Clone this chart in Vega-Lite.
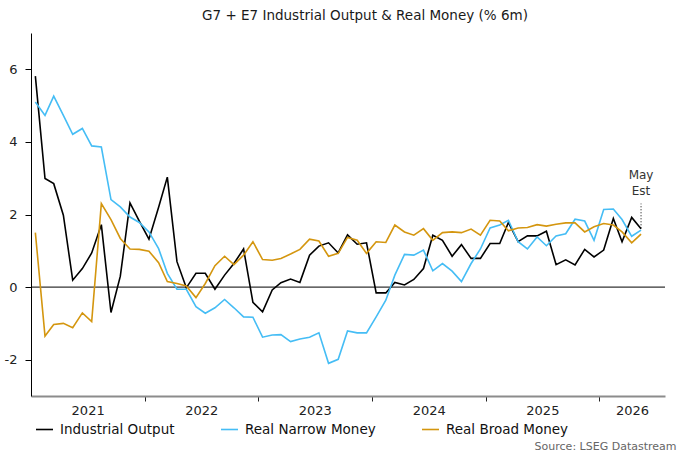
{
  "$schema": "https://vega.github.io/schema/vega-lite/v6.json",
  "width": 634,
  "height": 363,
  "autosize": {"type": "none"},
  "padding": {"left": 31, "top": 33, "right": 15, "bottom": 58},
  "background": "white",
  "title": {
    "text": "G7 + E7 Industrial Output & Real Money (% 6m)",
    "font": "DejaVu Sans",
    "fontSize": 13.5,
    "fontWeight": "normal",
    "color": "#1a1a1a",
    "anchor": "middle",
    "offset": 11,
    "dx": 17
  },
  "config": {
    "view": {"stroke": null},
    "font": "DejaVu Sans"
  },
  "datasets": {
    "monthly": [
      {"m": "2021-01-15", "Industrial Output": 5.81, "Real Narrow Money": 5.10, "Real Broad Money": 1.50},
      {"m": "2021-02-15", "Industrial Output": 2.99, "Real Narrow Money": 4.73, "Real Broad Money": -1.35},
      {"m": "2021-03-15", "Industrial Output": 2.85, "Real Narrow Money": 5.26, "Real Broad Money": -1.03},
      {"m": "2021-04-15", "Industrial Output": 1.98, "Real Narrow Money": 4.73, "Real Broad Money": -1.00},
      {"m": "2021-05-15", "Industrial Output": 0.19, "Real Narrow Money": 4.21, "Real Broad Money": -1.12},
      {"m": "2021-06-15", "Industrial Output": 0.51, "Real Narrow Money": 4.37, "Real Broad Money": -0.71},
      {"m": "2021-07-15", "Industrial Output": 0.94, "Real Narrow Money": 3.89, "Real Broad Money": -0.95},
      {"m": "2021-08-15", "Industrial Output": 1.72, "Real Narrow Money": 3.86, "Real Broad Money": 2.30},
      {"m": "2021-09-15", "Industrial Output": -0.70, "Real Narrow Money": 2.41, "Real Broad Money": 1.86},
      {"m": "2021-10-15", "Industrial Output": 0.30, "Real Narrow Money": 2.21, "Real Broad Money": 1.34},
      {"m": "2021-11-15", "Industrial Output": 2.32, "Real Narrow Money": 1.93, "Real Broad Money": 1.05},
      {"m": "2021-12-15", "Industrial Output": 1.82, "Real Narrow Money": 1.78, "Real Broad Money": 1.04},
      {"m": "2022-01-15", "Industrial Output": 1.32, "Real Narrow Money": 1.52, "Real Broad Money": 0.99},
      {"m": "2022-02-15", "Industrial Output": 2.20, "Real Narrow Money": 1.06, "Real Broad Money": 0.67},
      {"m": "2022-03-15", "Industrial Output": 3.03, "Real Narrow Money": 0.38, "Real Broad Money": 0.15},
      {"m": "2022-04-15", "Industrial Output": 0.70, "Real Narrow Money": -0.06, "Real Broad Money": 0.10},
      {"m": "2022-05-15", "Industrial Output": -0.02, "Real Narrow Money": -0.06, "Real Broad Money": 0.03},
      {"m": "2022-06-15", "Industrial Output": 0.38, "Real Narrow Money": -0.54, "Real Broad Money": -0.29},
      {"m": "2022-07-15", "Industrial Output": 0.38, "Real Narrow Money": -0.72, "Real Broad Money": 0.10},
      {"m": "2022-08-15", "Industrial Output": -0.06, "Real Narrow Money": -0.57, "Real Broad Money": 0.59},
      {"m": "2022-09-15", "Industrial Output": 0.33, "Real Narrow Money": -0.34, "Real Broad Money": 0.85},
      {"m": "2022-10-15", "Industrial Output": 0.65, "Real Narrow Money": -0.57, "Real Broad Money": 0.62},
      {"m": "2022-11-15", "Industrial Output": 1.05, "Real Narrow Money": -0.82, "Real Broad Money": 0.88},
      {"m": "2022-12-15", "Industrial Output": -0.42, "Real Narrow Money": -0.83, "Real Broad Money": 1.25},
      {"m": "2023-01-15", "Industrial Output": -0.68, "Real Narrow Money": -1.38, "Real Broad Money": 0.76},
      {"m": "2023-02-15", "Industrial Output": -0.08, "Real Narrow Money": -1.32, "Real Broad Money": 0.74},
      {"m": "2023-03-15", "Industrial Output": 0.12, "Real Narrow Money": -1.31, "Real Broad Money": 0.79},
      {"m": "2023-04-15", "Industrial Output": 0.22, "Real Narrow Money": -1.50, "Real Broad Money": 0.91},
      {"m": "2023-05-15", "Industrial Output": 0.13, "Real Narrow Money": -1.43, "Real Broad Money": 1.04},
      {"m": "2023-06-15", "Industrial Output": 0.88, "Real Narrow Money": -1.38, "Real Broad Money": 1.32},
      {"m": "2023-07-15", "Industrial Output": 1.13, "Real Narrow Money": -1.26, "Real Broad Money": 1.27},
      {"m": "2023-08-15", "Industrial Output": 1.22, "Real Narrow Money": -2.10, "Real Broad Money": 0.85},
      {"m": "2023-09-15", "Industrial Output": 0.94, "Real Narrow Money": -1.99, "Real Broad Money": 0.93},
      {"m": "2023-10-15", "Industrial Output": 1.44, "Real Narrow Money": -1.21, "Real Broad Money": 1.37},
      {"m": "2023-11-15", "Industrial Output": 1.18, "Real Narrow Money": -1.26, "Real Broad Money": 1.29},
      {"m": "2023-12-15", "Industrial Output": 1.22, "Real Narrow Money": -1.26, "Real Broad Money": 0.93},
      {"m": "2024-01-15", "Industrial Output": -0.16, "Real Narrow Money": -0.82, "Real Broad Money": 1.25},
      {"m": "2024-02-15", "Industrial Output": -0.16, "Real Narrow Money": -0.36, "Real Broad Money": 1.23},
      {"m": "2024-03-15", "Industrial Output": 0.13, "Real Narrow Money": 0.33, "Real Broad Money": 1.71},
      {"m": "2024-04-15", "Industrial Output": 0.06, "Real Narrow Money": 0.90, "Real Broad Money": 1.52},
      {"m": "2024-05-15", "Industrial Output": 0.21, "Real Narrow Money": 0.88, "Real Broad Money": 1.43},
      {"m": "2024-06-15", "Industrial Output": 0.51, "Real Narrow Money": 1.02, "Real Broad Money": 1.61},
      {"m": "2024-07-15", "Industrial Output": 1.43, "Real Narrow Money": 0.45, "Real Broad Money": 1.29},
      {"m": "2024-08-15", "Industrial Output": 1.29, "Real Narrow Money": 0.65, "Real Broad Money": 1.50},
      {"m": "2024-09-15", "Industrial Output": 0.85, "Real Narrow Money": 0.44, "Real Broad Money": 1.52},
      {"m": "2024-10-15", "Industrial Output": 1.17, "Real Narrow Money": 0.15, "Real Broad Money": 1.50},
      {"m": "2024-11-15", "Industrial Output": 0.79, "Real Narrow Money": 0.65, "Real Broad Money": 1.60},
      {"m": "2024-12-15", "Industrial Output": 0.79, "Real Narrow Money": 1.05, "Real Broad Money": 1.43},
      {"m": "2025-01-15", "Industrial Output": 1.20, "Real Narrow Money": 1.63, "Real Broad Money": 1.84},
      {"m": "2025-02-15", "Industrial Output": 1.20, "Real Narrow Money": 1.71, "Real Broad Money": 1.82},
      {"m": "2025-03-15", "Industrial Output": 1.78, "Real Narrow Money": 1.84, "Real Broad Money": 1.55},
      {"m": "2025-04-15", "Industrial Output": 1.25, "Real Narrow Money": 1.25, "Real Broad Money": 1.63},
      {"m": "2025-05-15", "Industrial Output": 1.41, "Real Narrow Money": 1.05, "Real Broad Money": 1.64},
      {"m": "2025-06-15", "Industrial Output": 1.41, "Real Narrow Money": 1.38, "Real Broad Money": 1.72},
      {"m": "2025-07-15", "Industrial Output": 1.54, "Real Narrow Money": 1.14, "Real Broad Money": 1.68},
      {"m": "2025-08-15", "Industrial Output": 0.62, "Real Narrow Money": 1.41, "Real Broad Money": 1.73},
      {"m": "2025-09-15", "Industrial Output": 0.75, "Real Narrow Money": 1.47, "Real Broad Money": 1.77},
      {"m": "2025-10-15", "Industrial Output": 0.61, "Real Narrow Money": 1.87, "Real Broad Money": 1.77},
      {"m": "2025-11-15", "Industrial Output": 1.04, "Real Narrow Money": 1.82, "Real Broad Money": 1.52},
      {"m": "2025-12-15", "Industrial Output": 0.83, "Real Narrow Money": 1.29, "Real Broad Money": 1.66},
      {"m": "2026-01-15", "Industrial Output": 1.02, "Real Narrow Money": 2.14, "Real Broad Money": 1.75},
      {"m": "2026-02-15", "Industrial Output": 1.89, "Real Narrow Money": 2.15, "Real Broad Money": 1.71},
      {"m": "2026-03-15", "Industrial Output": 1.25, "Real Narrow Money": 1.86, "Real Broad Money": 1.52},
      {"m": "2026-04-15", "Industrial Output": 1.92, "Real Narrow Money": 1.40, "Real Broad Money": 1.22},
      {"m": "2026-05-15", "Industrial Output": 1.61, "Real Narrow Money": 1.57, "Real Broad Money": 1.46}
    ],
    "estimate": [
      {"m": "2026-05-15", "lo": 1.62, "hi": 2.3, "note": ["May", "Est"]}
    ]
  },
  "layer": [
    {
      "data": {"values": [{"v": 0}]},
      "mark": {"type": "rule", "color": "#000000", "strokeWidth": 1},
      "encoding": {"y": {"field": "v", "type": "quantitative"}}
    },
    {
      "data": {"name": "monthly"},
      "transform": [
        {"fold": ["Industrial Output", "Real Narrow Money", "Real Broad Money"], "as": ["series", "value"]}
      ],
      "mark": {"type": "line", "strokeWidth": 1.6, "strokeJoin": "miter"},
      "encoding": {
        "x": {
          "field": "m",
          "type": "temporal",
          "scale": {
            "type": "utc",
            "domain": [
              {"year": 2021, "month": 1, "date": 1, "utc": true},
              {"year": 2026, "month": 7, "date": 31, "utc": true}
            ]
          },
          "axis": {
            "values": [
              {"year": 2021, "month": 7, "date": 2, "utc": true},
              {"year": 2022, "month": 1, "date": 1, "utc": true},
              {"year": 2022, "month": 7, "date": 2, "utc": true},
              {"year": 2023, "month": 1, "date": 1, "utc": true},
              {"year": 2023, "month": 7, "date": 2, "utc": true},
              {"year": 2024, "month": 1, "date": 1, "utc": true},
              {"year": 2024, "month": 7, "date": 2, "utc": true},
              {"year": 2025, "month": 1, "date": 1, "utc": true},
              {"year": 2025, "month": 7, "date": 2, "utc": true},
              {"year": 2026, "month": 1, "date": 1, "utc": true},
              {"year": 2026, "month": 4, "date": 16, "utc": true}
            ],
            "labelExpr": "utcdate(datum.value) == 1 && utcmonth(datum.value) == 0 ? '' : utcFormat(datum.value, '%Y')",
            "tickOpacity": {
              "condition": {"test": "utcdate(datum.value) == 1 && utcmonth(datum.value) == 0", "value": 1},
              "value": 0
            },
            "labelOverlap": false,
            "labelBound": false,
            "labelFlush": false,
            "grid": false,
            "domainColor": "#8c8c8c",
            "domainWidth": 2.2,
            "tickColor": "#222222",
            "tickSize": 5,
            "labelFontSize": 13,
            "labelColor": "#222222",
            "labelPadding": 3,
            "title": "Source: LSEG Datastream",
            "titleFontSize": 11,
            "titleFontWeight": "normal",
            "titleColor": "#666666",
            "titleAnchor": "end",
            "titleAlign": "right",
            "titleBaseline": "top",
            "titleX": 645,
            "titleY": 44
          }
        },
        "y": {
          "field": "value",
          "type": "quantitative",
          "scale": {"domain": [-3, 7], "nice": false, "zero": false},
          "axis": {
            "values": [-2, 0, 2, 4, 6],
            "labelExpr": "replace(datum.label, '\u2212', '-')",
            "grid": false,
            "domainColor": "#000000",
            "tickColor": "#000000",
            "tickSize": 6,
            "labelFontSize": 13,
            "labelColor": "#222222",
            "labelPadding": 8,
            "title": null
          }
        },
        "color": {
          "field": "series",
          "type": "nominal",
          "sort": ["Industrial Output", "Real Narrow Money", "Real Broad Money"],
          "scale": {
            "domain": ["Industrial Output", "Real Narrow Money", "Real Broad Money"],
            "range": ["#000000", "#45bdf5", "#d4960f"]
          },
          "legend": {
            "title": null,
            "orient": "none",
            "direction": "horizontal",
            "legendX": 4,
            "legendY": 387,
            "symbolType": "stroke",
            "symbolSize": 289,
            "symbolStrokeWidth": 1.6,
            "labelFontSize": 13.5,
            "labelColor": "#111111",
            "labelOffset": 6,
            "columnPadding": 42
          }
        },
        "order": {"field": "series", "sort": "descending"}
      }
    },
    {
      "data": {"name": "estimate"},
      "mark": {"type": "rule", "color": "#000000", "strokeWidth": 1, "strokeDash": [1, 2]},
      "encoding": {
        "x": {"field": "m", "type": "temporal"},
        "y": {"field": "lo", "type": "quantitative"},
        "y2": {"field": "hi"}
      }
    },
    {
      "data": {"name": "estimate"},
      "mark": {"type": "text", "fontSize": 12, "color": "#333333", "baseline": "bottom", "align": "center", "lineHeight": 16, "dy": -22},
      "encoding": {
        "x": {"field": "m", "type": "temporal"},
        "y": {"field": "hi", "type": "quantitative"},
        "text": {"field": "note"}
      }
    }
  ]
}
